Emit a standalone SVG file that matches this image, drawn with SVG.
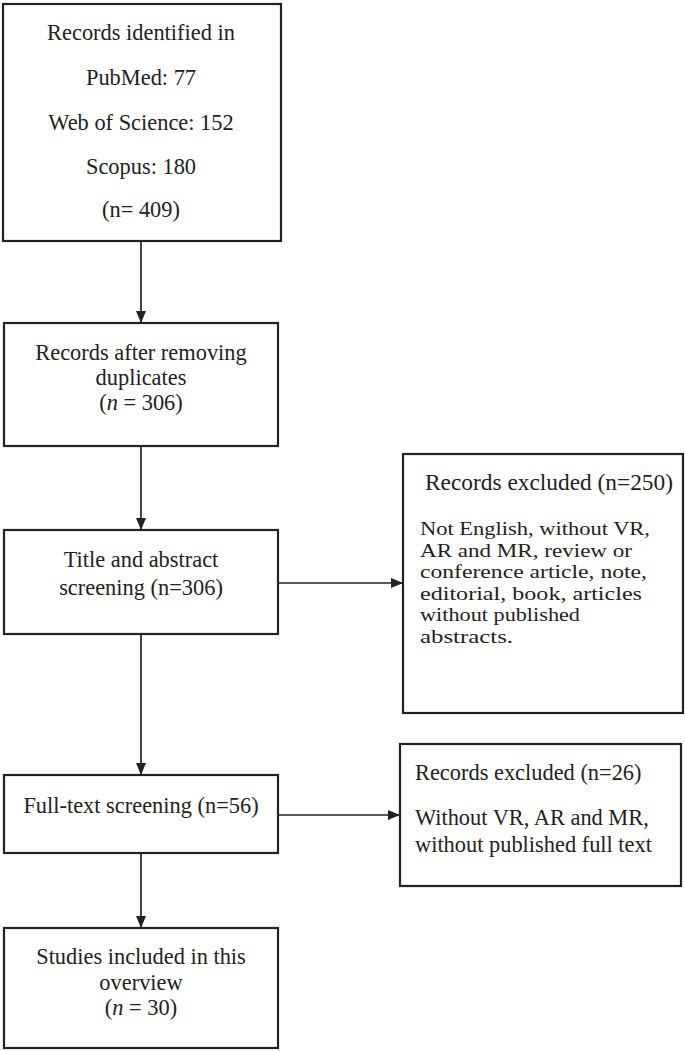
<svg xmlns="http://www.w3.org/2000/svg" width="685" height="1051" viewBox="0 0 685 1051">
<style>
.box{fill:#fff;stroke:#222;stroke-width:2.2}
.t{font-family:"Liberation Serif","Times New Roman",serif;font-size:22.4px;fill:#222}
.s{font-size:19.5px}
.c{text-anchor:middle}
.ln{stroke:#222;stroke-width:1.7;fill:none}
</style>
<defs>
<marker id="ah" viewBox="0 0 12 10" refX="12" refY="5" markerWidth="12" markerHeight="10" markerUnits="userSpaceOnUse" orient="auto">
<path d="M0,0 L12,5 L0,10 Z" fill="#222"/>
</marker>
</defs>
<rect width="685" height="1051" fill="#fff"/>
<g id="connectors">
<line class="ln" x1="141" y1="241" x2="141" y2="323" marker-end="url(#ah)"/>
<line class="ln" x1="141" y1="446" x2="141" y2="530" marker-end="url(#ah)"/>
<line class="ln" x1="141" y1="634" x2="141" y2="775" marker-end="url(#ah)"/>
<line class="ln" x1="141" y1="853" x2="141" y2="928" marker-end="url(#ah)"/>
<line class="ln" x1="278" y1="583" x2="403" y2="583" marker-end="url(#ah)"/>
<line class="ln" x1="278" y1="815" x2="400" y2="815" marker-end="url(#ah)"/>
</g>
<g id="identified">
<rect class="box" x="3" y="4" width="278" height="237"/>
<text class="t c" x="141" y="40">Records identified in</text>
<text class="t c" x="141" y="85">PubMed: 77</text>
<text class="t c" x="141" y="130">Web of Science: 152</text>
<text class="t c" x="141" y="174">Scopus: 180</text>
<text class="t c" x="141" y="217">(n= 409)</text>
</g>
<g id="deduplicated">
<rect class="box" x="4" y="323" width="274" height="123"/>
<text class="t c" x="141" y="360">Records after removing</text>
<text class="t c" x="141" y="385">duplicates</text>
<text class="t c" x="141" y="410">(<tspan font-style="italic">n</tspan> = 306)</text>
</g>
<g id="screening">
<rect class="box" x="4" y="530" width="274" height="104"/>
<text class="t c" x="141" y="567">Title and abstract</text>
<text class="t c" x="141" y="595">screening (n=306)</text>
</g>
<g id="excluded1">
<rect class="box" x="403" y="454" width="280" height="259"/>
<text class="t" x="425" y="490" textLength="248" lengthAdjust="spacingAndGlyphs">Records excluded (n=250)</text>
<text class="t s" x="420" y="535" textLength="230" lengthAdjust="spacingAndGlyphs">Not English, without VR,</text>
<text class="t s" x="420" y="557" textLength="212" lengthAdjust="spacingAndGlyphs">AR and MR, review or</text>
<text class="t s" x="420" y="578" textLength="227" lengthAdjust="spacingAndGlyphs">conference article, note,</text>
<text class="t s" x="420" y="600" textLength="222" lengthAdjust="spacingAndGlyphs">editorial, book, articles</text>
<text class="t s" x="420" y="621" textLength="160" lengthAdjust="spacingAndGlyphs">without published</text>
<text class="t s" x="420" y="643" textLength="93" lengthAdjust="spacingAndGlyphs">abstracts.</text>
</g>
<g id="fulltext">
<rect class="box" x="4" y="775" width="274" height="78"/>
<text class="t c" x="141" y="813">Full-text screening (n=56)</text>
</g>
<g id="excluded2">
<rect class="box" x="400" y="744" width="281" height="142"/>
<text class="t" x="415" y="780">Records excluded (n=26)</text>
<text class="t" x="415" y="825">Without VR, AR and MR,</text>
<text class="t" x="415" y="852">without published full text</text>
</g>
<g id="included">
<rect class="box" x="4" y="928" width="274" height="120"/>
<text class="t c" x="141" y="964">Studies included in this</text>
<text class="t c" x="141" y="990">overview</text>
<text class="t c" x="141" y="1015">(<tspan font-style="italic">n</tspan> = 30)</text>
</g>
</svg>
